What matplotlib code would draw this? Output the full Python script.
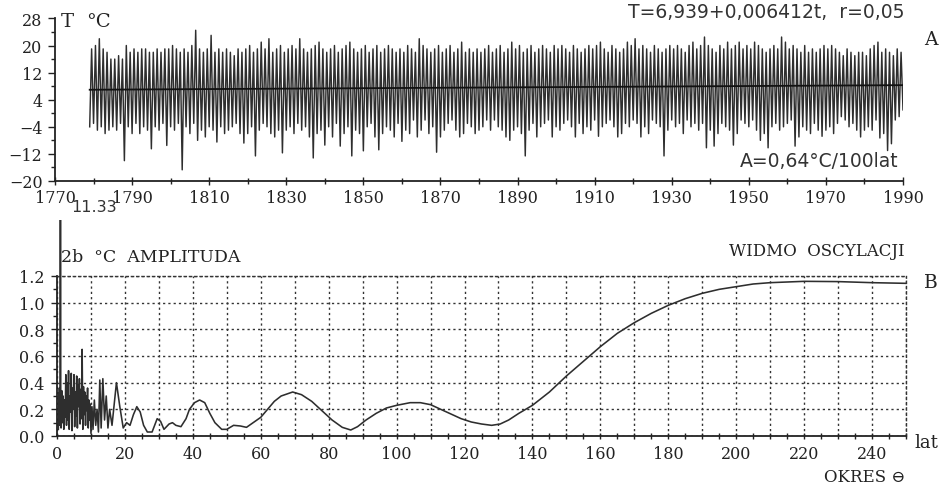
import matplotlib

matplotlib.use("Agg")
import matplotlib.pyplot as plt
from matplotlib.patches import Rectangle
from matplotlib.ticker import FixedLocator, MultipleLocator

# --- monthly temperature extremes, one winter low and one summer high per year ---
years = list(range(1779, 1991))
winter_low = [
    -4, -3, -5, -4, -6, -5, -4, -5, -3, -14,
    -4, -6, -3, -6, -4, -5, -10.5, -4, -5, -3,
    -9.5, -4, -5, -3, -16.7, -4, -6, -3, -8, -5,
    -7, -4, -5, -8.5, -4, -6, -5, -4, -3, -6,
    -8.8, -6, -4, -12.6, -5, -3, -4, -6, -7, -5,
    -11.7, -5, -4, -6, -3, -5, -4, -7, -13.2, -6,
    -5, -9.4, -4, -7, -3, -9.7, -6, -4, -12.6, -5,
    -6, -11.1, -4, -3, -7, -10.8, -6, -4, -5, -7,
    -3, -8.3, -5, -6, -2, -7, -5, -2, -6, -4,
    -11.5, -7, -5, -3, -2, -5, -7, -6, -3, -4,
    -6, -5, -4, -2, -5, -2, -4, -5, -7, -8,
    -5, -4, -6, -12.6, -5, -3, -7, -4, -3, -2,
    -7, -4, -5, -3, -2, -4, -7, -3, -6, -4,
    -5, -2, -6.8, -4, -3, -2, -4, -7, -6, -3,
    -4, -2, -3, -7, -4, -6, -2, -3, -4, -12.6,
    -5, -2, -4, -3, -6, -2, -4, -3, -5, -3,
    -10.2, -5, -9.7, -6, -3, -4, -5, -9.4, -6, -2,
    -3, -4, -2, -5, -8, -6, -10.2, -4, -3, -5,
    -4, -3, -2, -9.7, -7, -4, -5, -6, -3, -5,
    -6.8, -5, -4, -6, -3, -1, -2, -4, -3, -5,
    -7, -5, -4, -5, -2, -7.3, -6, -11, -9, -2,
    -1, 1,
]
summer_high = [
    19, 20, 22, 19, 18, 16, 16, 17, 16, 20,
    18, 19, 18, 19, 19, 18, 18, 19, 18, 19,
    19, 20, 19, 18, 19, 18, 20, 24.5, 19, 18,
    19, 23, 18, 19, 18, 19, 18, 17, 19, 18,
    19, 20, 18, 19, 21, 19, 22, 18, 19, 20,
    18, 19, 20, 19, 22, 19, 18, 19, 20, 21,
    19, 18, 19, 20, 18, 19, 20, 21, 19, 18,
    19, 20, 18, 19, 20, 18, 19, 20, 19, 18,
    19, 18, 20, 19, 18, 22, 20, 19, 18, 19,
    20, 18, 19, 20, 18, 19, 21, 18, 19, 18,
    19, 18, 19, 20, 18, 19, 20, 18, 19, 21,
    19, 20, 18, 19, 20, 18, 19, 20, 19, 18,
    20, 19, 20, 19, 18, 20, 19, 18, 19, 20,
    19, 20, 21, 19, 18, 20, 19, 18, 19, 21,
    20, 22, 19, 20, 19, 18, 20, 19, 18, 19,
    20, 19, 20, 19, 18, 20, 21, 19, 20, 22.5,
    20, 19, 18, 20, 19, 21, 19, 20, 21, 19,
    20, 19, 21, 20, 19, 18, 19, 20, 19, 22.5,
    21, 19, 20, 19, 18, 20, 18, 19, 18, 19,
    20, 19, 20, 19, 18, 17, 19, 18, 17, 18,
    18, 17, 19, 20, 21, 18, 19, 18, 17, 19,
    18,
]

# linear trend T = a + b*t, t in years from the first year
trend_a = 6.939
trend_b = 0.006412
trend_years = [1779, 1990]

# --- amplitude spectrum vs. period (years) ---
period = [
    0.4, 0.5, 0.6, 0.7, 0.8, 0.9, 1.0, 1.1, 1.2, 1.4, 1.6, 1.8, 2.0, 2.2,
    2.4, 2.6, 2.8, 3.0, 3.2, 3.4, 3.6, 3.8, 4.0, 4.2, 4.4, 4.6, 4.8, 5.0,
    5.2, 5.4, 5.6, 5.8, 6.0, 6.2, 6.4, 6.6, 6.8, 7.0, 7.2, 7.4, 7.6, 7.8,
    8.0, 8.2, 8.4, 8.6, 8.8, 9.0, 9.2, 9.4, 9.6, 9.8, 10.0,
    10.3, 10.6, 11.0, 11.4, 11.8, 12.2, 12.6, 13.0, 13.5, 14.0, 14.5, 15.0,
    15.5, 16.2, 17.5, 18.5, 19.5, 20.5, 21.5, 22.5, 23.5, 24.5, 25.5, 26.6,
    28.0, 29.5, 30.5, 31.5, 33.0, 34.0, 35.0, 36.5, 38.0, 39.0, 40.5, 42.0,
    43.5, 45.0, 46.5, 48.5, 50.0, 52.0, 54.0, 55.8, 58.3, 60.0, 62.0, 64.0,
    66.0, 69.4, 72.0, 75.0, 78.0, 81.0, 84.0, 86.5, 88.5, 91.0, 94.0, 97.0,
    100.0, 104.0, 107.0, 110.0, 113.0, 116.0, 119.0, 122.0, 125.0, 128.0,
    130.5, 133.0, 136.0, 140.0, 145.0, 150.0, 155.0, 160.0, 165.0, 170.0,
    175.0, 180.0, 185.0, 190.0, 195.0, 200.0, 205.0, 210.0, 215.0, 220.0,
    230.0, 240.0, 250.0,
]
amplitude = [
    0.05, 0.32, 0.08, 0.36, 0.12, 0.28, 11.33, 0.22, 0.06, 0.34, 0.10, 0.30, 0.05, 0.27,
    0.14, 0.46, 0.08, 0.40, 0.12, 0.49, 0.05, 0.30, 0.18, 0.47, 0.04, 0.36, 0.20, 0.46,
    0.07, 0.33, 0.15, 0.45, 0.06, 0.38, 0.22, 0.43, 0.09, 0.35, 0.13, 0.65, 0.05, 0.37,
    0.16, 0.33, 0.08, 0.30, 0.19, 0.36, 0.06, 0.27, 0.12, 0.24, 0.02,
    0.22, 0.05, 0.27, 0.08, 0.20, 0.03, 0.42, 0.06, 0.43, 0.12, 0.30, 0.06,
    0.20, 0.08, 0.40, 0.22, 0.06, 0.10, 0.08, 0.16, 0.22, 0.18, 0.08, 0.03,
    0.03, 0.13, 0.11, 0.05, 0.09, 0.10, 0.08, 0.07, 0.13, 0.20, 0.25, 0.27,
    0.25, 0.17, 0.10, 0.05, 0.05, 0.08, 0.075, 0.065, 0.11, 0.14, 0.20, 0.26,
    0.30, 0.33, 0.31, 0.26, 0.19, 0.12, 0.065, 0.045, 0.07, 0.12, 0.17, 0.21,
    0.23, 0.25, 0.25, 0.235, 0.20, 0.165, 0.13, 0.105, 0.09, 0.08,
    0.09, 0.12, 0.17, 0.23, 0.33, 0.45, 0.56, 0.67, 0.77, 0.85,
    0.92, 0.98, 1.03, 1.07, 1.10, 1.12, 1.14, 1.15, 1.155, 1.16,
    1.158, 1.15, 1.145,
]

SERIF = ["DejaVu Serif", "DejaVu Sans"]
SANS = "DejaVu Sans"
INK = "#222222"
LINE = "#2e2e2e"
W, H = 948, 489


def fig_xy(px, py):
    return px / W, 1 - py / H


fig = plt.figure(figsize=(W / 100, H / 100), dpi=100)

# ---------------- panel A: temperature series ----------------
ax1 = fig.add_axes([55 / W, (H - 182) / H, 848 / W, (182 - 19.4) / H])
xs, ys = [], []
for i, yr in enumerate(years):
    xs.append(yr)
    ys.append(winter_low[i])
    if i < len(summer_high):
        xs.append(yr + 0.5)
        ys.append(summer_high[i])
ax1.plot(xs, ys, color=LINE, lw=1.05)
ax1.plot(trend_years, [trend_a + trend_b * (t - trend_years[0]) for t in trend_years],
         color="#111111", lw=1.3)

ax1.set_xlim(1770, 1990)
ax1.set_ylim(-20, 28)
for s in ("top", "right"):
    ax1.spines[s].set_visible(False)
for s in ("left", "bottom"):
    ax1.spines[s].set_color(INK)
    ax1.spines[s].set_linewidth(1.3)
ax1.xaxis.set_major_locator(FixedLocator(range(1770, 1991, 20)))
ax1.xaxis.set_minor_locator(MultipleLocator(10))
ax1.yaxis.set_major_locator(FixedLocator(range(-20, 29, 8)))
ax1.yaxis.set_minor_locator(MultipleLocator(4))
ax1.tick_params(axis="x", which="major", direction="inout", length=6, width=1,
                pad=3, colors=INK)
ax1.tick_params(axis="x", which="minor", direction="inout", length=4, width=1, colors=INK)
ax1.tick_params(axis="y", which="major", direction="out", length=5, width=1,
                pad=4, colors=INK)
ax1.tick_params(axis="y", which="minor", direction="out", length=3, width=1, colors=INK)
for lab in ax1.get_xticklabels() + ax1.get_yticklabels():
    lab.set_family(SERIF)
    lab.set_fontsize(11.5)

fig.text(*fig_xy(61, 22), "T", family=SERIF, fontsize=14, color=INK,
         ha="left", va="center")
fig.text(*fig_xy(86, 22), "°C", family=SERIF, fontsize=14, color=INK,
         ha="left", va="center")
fig.text(*fig_xy(905, 13), "T=6,939+0,006412t,  r=0,05", family=SANS,
         fontsize=13.5, color="#333333", ha="right", va="center")
fig.text(*fig_xy(924, 40), "A", family=SERIF, fontsize=13.5, color=INK,
         ha="left", va="center")
fig.text(*fig_xy(898, 162), "A=0,64°C/100lat", family=SANS, fontsize=13.5,
         color="#333333", ha="right", va="center")

# ---------------- panel B: amplitude spectrum ----------------
ax2 = fig.add_axes([57 / W, 52 / H, 849 / W, 160 / H])
(spec,) = ax2.plot(period, amplitude, color=LINE, lw=1.15)
# the annual peak (11.33) runs above the frame and is cut a little above it
spec.set_clip_path(Rectangle((0, 0), 250, 1.62, transform=ax2.transData))

ax2.set_xlim(0, 250)
ax2.set_ylim(0, 1.2)
ax2.set_xticks(range(0, 251, 10))
ax2.set_xticklabels([str(v) if v % 20 == 0 else "" for v in range(0, 251, 10)])
ax2.xaxis.set_minor_locator(MultipleLocator(5))
ax2.set_yticks([0.0, 0.2, 0.4, 0.6, 0.8, 1.0, 1.2])
ax2.set_yticklabels(["0.0", "0.2", "0.4", "0.6", "0.8", "1.0", "1.2"])
ax2.yaxis.set_minor_locator(MultipleLocator(0.1))
ax2.grid(True, which="major", color="#333333", lw=1.0, linestyle=(0, (1.6, 2.2)))
ax2.set_axisbelow(True)
for s in ("top", "right"):
    ax2.spines[s].set_color("#333333")
    ax2.spines[s].set_linestyle((0, (1.6, 2.2)))
    ax2.spines[s].set_linewidth(1.0)
for s in ("left", "bottom"):
    ax2.spines[s].set_color(INK)
    ax2.spines[s].set_linewidth(1.3)
ax2.tick_params(axis="x", which="major", direction="inout", length=5, width=1,
                pad=4, colors=INK)
ax2.tick_params(axis="x", which="minor", direction="inout", length=4, width=1, colors=INK)
ax2.tick_params(axis="y", which="major", direction="out", length=4, width=1,
                pad=5, colors=INK)
ax2.tick_params(axis="y", which="minor", direction="out", length=3, width=1, colors=INK)
for lab in ax2.get_xticklabels() + ax2.get_yticklabels():
    lab.set_family(SERIF)
    lab.set_fontsize(11.5)

ax2.text(4.3, 1.72, "11.33", family=SANS, fontsize=11.5, color="#333333",
         ha="left", va="center", clip_on=False)
fig.text(*fig_xy(61, 257), "2b  °C  AMPLITUDA", family=SERIF, fontsize=12.5,
         color=INK, ha="left", va="center")
fig.text(*fig_xy(905, 252), "WIDMO  OSCYLACJI", family=SERIF, fontsize=12,
         color=INK, ha="right", va="center")
fig.text(*fig_xy(924, 283), "B", family=SERIF, fontsize=13.5, color=INK,
         ha="left", va="center")
fig.text(*fig_xy(914, 443), "lat", family=SERIF, fontsize=13, color=INK,
         ha="left", va="center")
fig.text(*fig_xy(905, 478), "OKRES ⊖", family=SERIF, fontsize=12, color=INK,
         ha="right", va="center")

fig.savefig("out.png", dpi=100)
